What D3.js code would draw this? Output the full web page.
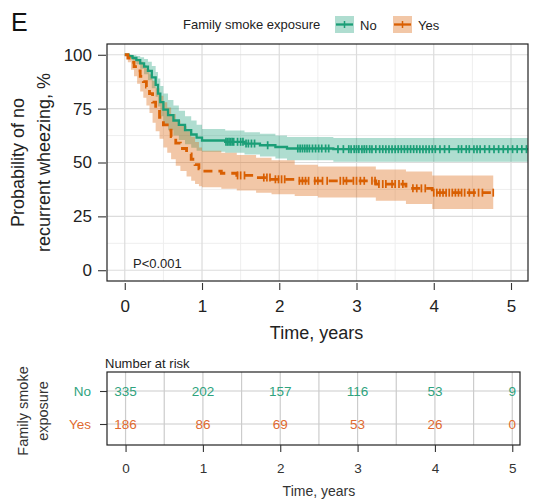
<!DOCTYPE html>
<html>
<head>
<meta charset="utf-8">
<script src="https://cdn.jsdelivr.net/npm/d3@7"></script>
<style>
  body { margin: 0; background: #fff; }
  svg { display: block; font-family: "Liberation Sans", Arial, Helvetica, sans-serif; }
</style>
</head>
<body>
<script>
// Kaplan-Meier steps (time in years, survival in %)
var noTime  = [0, .05, .1, .15, .2, .25, .3, .35, .4, .43, .46, .5, .56, .63, .7, .78, .86, .93, 1.0, 1.3, 1.55, 1.75, 1.95, 2.1, 2.7, 5.22];
var noSurv  = [100, 99.4, 98.5, 97.5, 96, 94.5, 92.5, 89.5, 86, 82, 78, 74.5, 72, 69.5, 67.5, 65, 63, 61.5, 60.2, 59.6, 58.8, 58, 57.2, 56.5, 56.2, 56.2];
var noUpper = [100, 100, 99.8, 99.4, 98.8, 98, 96.8, 94.8, 92, 89, 85.5, 82, 79, 76.5, 74, 71.5, 69.5, 67.5, 65.5, 64.8, 64, 63.3, 62.5, 61.8, 61.4, 61.4];
var noLower = [100, 98.6, 97.2, 95.6, 93.5, 91, 88.2, 84.5, 80.5, 76, 71.5, 67.5, 65, 62.5, 60.5, 58.5, 56.8, 55.5, 55, 54.5, 53.7, 52.8, 51.8, 51.0, 50.3, 50.3];

var yesTime  = [0, .04, .08, .12, .16, .2, .24, .28, .32, .36, .4, .45, .5, .55, .6, .66, .72, .8, .86, .91, .96, 1.0, 1.25, 1.45, 1.7, 1.9, 2.2, 2.5, 3.25, 3.64, 3.98, 4.77];
var yesSurv  = [100, 98.5, 96.5, 94.5, 92.5, 90, 87.5, 85, 82, 78, 74.5, 71, 67.5, 65, 62, 59, 56.5, 54, 51.5, 49, 47, 46, 45, 44, 43, 42.2, 41.5, 41.5, 40, 38, 36, 36];
var yesUpper = [100, 100, 99.6, 99, 98, 96.8, 95.2, 93.4, 91, 88, 84.5, 81, 78, 75.5, 72.5, 69.5, 67, 64.5, 62, 59.5, 57, 55.5, 54.5, 53.5, 52.2, 51, 49, 48.2, 46.8, 45.8, 44, 44];
var yesLower = [100, 96.5, 93, 90, 86.5, 83, 80, 76.5, 73, 68.5, 64.5, 61, 57, 54.5, 51.5, 48.5, 46, 43.5, 41.5, 40, 39, 38.5, 37.8, 37, 36, 35.3, 34.5, 33.8, 32.3, 30.7, 28.4, 28.4];

// censoring times
var noCensor = [1.31,1.33,1.35,1.37,1.39,1.41,1.46,1.5,1.53,1.57,1.6,1.64,1.68,1.85,2.24,2.27,2.3,2.33,2.36,2.39,2.43,2.47,2.51,2.55,2.6,2.64,2.76,2.83,2.9,2.93,2.97,3.0,3.03,3.07,3.1,3.13,3.17,3.2,3.25,3.3,3.34,3.38,3.42,3.46,3.5,3.54,3.58,3.62,3.66,3.7,3.74,3.78,3.82,3.86,3.9,3.94,3.98,4.02,4.08,4.14,4.2,4.32,4.36,4.42,4.46,4.52,4.56,4.6,4.66,4.72,4.78,4.84,4.9,4.96,5.02,5.08,5.14,5.2];
var yesCensor = [1.46,1.5,1.55,1.8,1.84,1.88,1.95,1.99,2.03,2.07,2.26,2.3,2.34,2.38,2.46,2.5,2.56,2.62,2.79,2.83,2.87,2.96,3.0,3.05,3.1,3.2,3.24,3.29,3.34,3.38,3.46,3.5,3.55,3.6,3.73,3.78,3.84,3.89,4.0,4.04,4.08,4.12,4.16,4.2,4.24,4.28,4.32,4.36,4.4,4.46,4.52,4.58,4.63,4.77];

// number at risk table
var riskTimes = [0, 1, 2, 3, 4, 5];
var riskNo  = [335, 202, 157, 116, 53, 9];
var riskYes = [186, 86, 69, 53, 26, 0];

var groups = ["No", "Yes"];
var colors = { No: "#1b9e77", Yes: "#d95f02" };
var textColors = { No: "#2fa37e", Yes: "#e06a30" };

var width = 534, height = 499;
var svg = d3.select("body").append("svg").attr("width", width).attr("height", height);

// main panel
var pl = 107, pr = 528, pt = 44, pb = 281;
var x = d3.scaleLinear().domain([-0.23, 5.22]).range([pl, pr]);
var y = d3.scaleLinear().domain([-5, 105]).range([pb, pt]);

// grid
var minorX = [0.5, 1.5, 2.5, 3.5, 4.5], minorY = [12.5, 37.5, 62.5, 87.5];
svg.append("g").selectAll("line").data(minorX).enter().append("line")
  .attr("x1", function (d) { return x(d); }).attr("x2", function (d) { return x(d); })
  .attr("y1", pt).attr("y2", pb).attr("stroke", "#eeeeee").attr("stroke-width", 1);
svg.append("g").selectAll("line").data(minorY).enter().append("line")
  .attr("y1", function (d) { return y(d); }).attr("y2", function (d) { return y(d); })
  .attr("x1", pl).attr("x2", pr).attr("stroke", "#eeeeee").attr("stroke-width", 1);
svg.append("g").selectAll("line").data(riskTimes).enter().append("line")
  .attr("x1", function (d) { return x(d); }).attr("x2", function (d) { return x(d); })
  .attr("y1", pt).attr("y2", pb).attr("stroke", "#dcdcdc").attr("stroke-width", 1.2);
svg.append("g").selectAll("line").data([0, 25, 50, 75, 100]).enter().append("line")
  .attr("y1", function (d) { return y(d); }).attr("y2", function (d) { return y(d); })
  .attr("x1", pl).attr("x2", pr).attr("stroke", "#dcdcdc").attr("stroke-width", 1.2);

svg.append("clipPath").attr("id", "clip").append("rect")
  .attr("x", pl).attr("y", pt).attr("width", pr - pl).attr("height", pb - pt);

var plot = svg.append("g").attr("clip-path", "url(#clip)");

function rows(t, s, lo, up) {
  return t.map(function (d, i) { return { t: d, s: s[i], lo: lo[i], up: up[i] }; });
}
var series = {
  No: rows(noTime, noSurv, noLower, noUpper),
  Yes: rows(yesTime, yesSurv, yesLower, yesUpper)
};
var censors = { No: noCensor, Yes: yesCensor };

var area = d3.area().curve(d3.curveStepAfter)
  .x(function (d) { return x(d.t); })
  .y0(function (d) { return y(d.lo); })
  .y1(function (d) { return y(d.up); });
var line = d3.line().curve(d3.curveStepAfter)
  .x(function (d) { return x(d.t); })
  .y(function (d) { return y(d.s); });

groups.forEach(function (g) {
  plot.append("path").datum(series[g]).attr("d", area)
    .attr("fill", colors[g]).attr("fill-opacity", 0.35);
});
groups.forEach(function (g) {
  plot.append("path").datum(series[g]).attr("d", line)
    .attr("fill", "none").attr("stroke", colors[g])
    .attr("stroke-width", g == "Yes" ? 2.8 : 2.3)
    .attr("stroke-dasharray", g == "Yes" ? "9,6" : null);

  var bis = d3.bisector(function (d) { return d.t; }).right;
  plot.append("g").selectAll("line").data(censors[g]).enter().append("line")
    .attr("x1", function (d) { return x(d); }).attr("x2", function (d) { return x(d); })
    .attr("y1", function (d) { var r = series[g][Math.max(0, bis(series[g], d) - 1)]; return y(r.s) - 4; })
    .attr("y2", function (d) { var r = series[g][Math.max(0, bis(series[g], d) - 1)]; return y(r.s) + 4; })
    .attr("stroke", colors[g]).attr("stroke-width", 1.7);
});

// panel border
svg.append("rect").attr("x", pl).attr("y", pt).attr("width", pr - pl).attr("height", pb - pt)
  .attr("fill", "none").attr("stroke", "#222").attr("stroke-width", 1.2);

// axes
var yAxis = svg.append("g").attr("transform", "translate(106,0)")
  .call(d3.axisLeft(y).tickValues([0, 25, 50, 75, 100]).tickSize(8).tickPadding(6));
var xAxis = svg.append("g").attr("transform", "translate(0,283)")
  .call(d3.axisBottom(x).tickValues(riskTimes).tickFormat(d3.format("d")).tickSize(7).tickPadding(10));
[xAxis, yAxis].forEach(function (a) {
  a.select(".domain").remove();
  a.selectAll(".tick line").attr("stroke", "#333").attr("stroke-width", 1.1);
  a.selectAll("text").attr("font-size", 17).attr("fill", "#222").style("font-family", null);
});

svg.append("text").attr("x", (pl + pr) / 2 - 1).attr("y", 339).attr("text-anchor", "middle")
  .attr("font-size", 18).attr("fill", "#222").text("Time, years");

var ylab = svg.append("text").attr("transform", "translate(0," + (pt + pb) / 2 + ") rotate(-90)")
  .attr("text-anchor", "middle").attr("font-size", 18).attr("fill", "#222");
ylab.append("tspan").attr("x", 0).attr("y", 24).text("Probability of no");
ylab.append("tspan").attr("x", 0).attr("y", 50).text("recurrent wheezing, %");

svg.append("text").attr("x", 133).attr("y", 268).attr("font-size", 13).attr("fill", "#222").text("P<0.001");

svg.append("text").attr("x", 11).attr("y", 31).attr("font-size", 25).attr("fill", "#111").text("E");

// legend
svg.append("text").attr("x", 183).attr("y", 29).attr("font-size", 13).attr("fill", "#222")
  .text("Family smoke exposure");
var legX = { No: 335, Yes: 393 };
groups.forEach(function (g) {
  var lg = svg.append("g").attr("transform", "translate(" + legX[g] + ",16)");
  lg.append("rect").attr("width", 19).attr("height", 17)
    .attr("fill", colors[g]).attr("fill-opacity", 0.35);
  lg.append("line").attr("x1", 1).attr("x2", 18).attr("y1", 8.5).attr("y2", 8.5)
    .attr("stroke", colors[g]).attr("stroke-width", 2.3);
  lg.append("line").attr("x1", 9.5).attr("x2", 9.5).attr("y1", 5).attr("y2", 12)
    .attr("stroke", colors[g]).attr("stroke-width", 1.5);
  lg.append("text").attr("x", 25).attr("y", 13.5).attr("font-size", 13).attr("fill", "#222").text(g);
});

// number at risk table
var tl = 107, tr = 520, tt = 372, tb = 445;
var xt = d3.scaleLinear().domain([-0.24, 5.1]).range([tl, tr]);
var yt = d3.scalePoint().domain(groups).range([391, 424]);
var halfX = [0.5, 1.5, 2.5, 3.5, 4.5];

svg.append("g").selectAll("line").data(riskTimes.concat(halfX)).enter().append("line")
  .attr("x1", function (d) { return xt(d); }).attr("x2", function (d) { return xt(d); })
  .attr("y1", tt).attr("y2", tb).attr("stroke", "#cccccc").attr("stroke-width", 1.2);
svg.append("g").selectAll("line").data(groups).enter().append("line")
  .attr("y1", function (d) { return yt(d); }).attr("y2", function (d) { return yt(d); })
  .attr("x1", tl).attr("x2", tr).attr("stroke", "#cccccc").attr("stroke-width", 1.2);

var risk = { No: riskNo, Yes: riskYes };
groups.forEach(function (g) {
  svg.append("g").selectAll("text").data(risk[g]).enter().append("text")
    .attr("x", function (d, i) { return xt(riskTimes[i]); })
    .attr("y", yt(g)).attr("dy", "0.36em")
    .attr("text-anchor", "middle").attr("font-size", 13.5).attr("fill", textColors[g])
    .text(function (d) { return d; });
});

svg.append("rect").attr("x", tl).attr("y", tt).attr("width", tr - tl).attr("height", tb - tt)
  .attr("fill", "none").attr("stroke", "#222").attr("stroke-width", 1.2);

var tyAxis = svg.append("g").attr("transform", "translate(" + tl + ",0)")
  .call(d3.axisLeft(yt).tickSize(7).tickPadding(9));
var txAxis = svg.append("g").attr("transform", "translate(0," + tb + ")")
  .call(d3.axisBottom(xt).tickValues(riskTimes).tickFormat(d3.format("d")).tickSize(7).tickPadding(11));
[tyAxis, txAxis].forEach(function (a) {
  a.select(".domain").remove();
  a.selectAll(".tick line").attr("stroke", "#333").attr("stroke-width", 1.1);
  a.selectAll("text").attr("font-size", 13.5).attr("fill", "#333").style("font-family", null);
});
tyAxis.selectAll("text").attr("fill", function (d) { return textColors[d]; });

svg.append("text").attr("x", tl - 2).attr("y", 368).attr("font-size", 13).attr("fill", "#222")
  .text("Number at risk");
svg.append("text").attr("x", (xt(0) + xt(5)) / 2).attr("y", 496).attr("text-anchor", "middle")
  .attr("font-size", 14).attr("fill", "#333").text("Time, years");

var tlab = svg.append("text").attr("transform", "translate(0,411) rotate(-90)")
  .attr("text-anchor", "middle").attr("font-size", 14.5).attr("fill", "#333");
tlab.append("tspan").attr("x", 0).attr("y", 28).text("Family smoke");
tlab.append("tspan").attr("x", 0).attr("y", 48).text("exposure");
</script>
</body>
</html>
